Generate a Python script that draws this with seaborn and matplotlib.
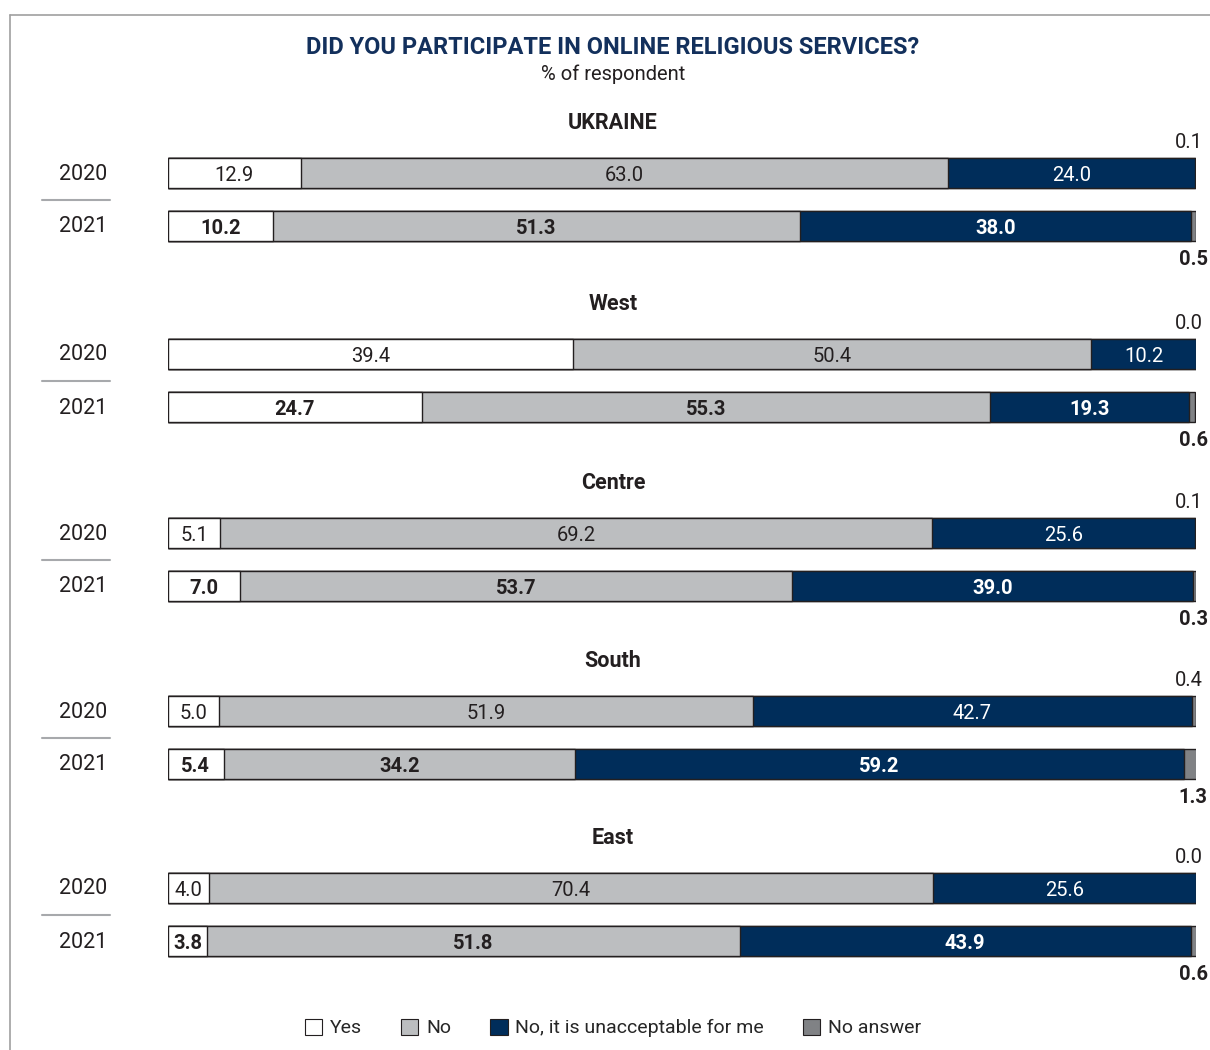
import matplotlib
matplotlib.use("Agg")
import matplotlib.pyplot as plt
from matplotlib.patches import Patch
from matplotlib.lines import Line2D
import seaborn as sns
import pandas as pd
import numpy as np

# ---------------- data ----------------
regions = ["UKRAINE", "West", "Centre", "South", "East"]
years = ["2020", "2021"]
categories = ["Yes", "No", "No, it is unacceptable for me", "No answer"]

yes_2020 = [12.9, 39.4, 5.1, 5.0, 4.0]
no_2020 = [63.0, 50.4, 69.2, 51.9, 70.4]
unacc_2020 = [24.0, 10.2, 25.6, 42.7, 25.6]
na_2020 = [0.1, 0.0, 0.1, 0.4, 0.0]

yes_2021 = [10.2, 24.7, 7.0, 5.4, 3.8]
no_2021 = [51.3, 55.3, 53.7, 34.2, 51.8]
unacc_2021 = [38.0, 19.3, 39.0, 59.2, 43.9]
na_2021 = [0.5, 0.6, 0.3, 1.3, 0.6]

# ---------------- style ----------------
sns.set_theme(style="white")
plt.rcParams["font.family"] = ["Roboto", "DejaVu Sans"]

colors = ["#ffffff", "#bcbec0", "#002d5a", "#808285"]
edge = "#231f20"
text_dark = "#231f20"
navy_title = "#13305c"

W, H = 1210, 1050
fig = plt.figure(figsize=(W / 100, H / 100), dpi=100)
fig.patch.set_facecolor("white")

def fx(px):
    return px / W

def fy(py):
    return 1 - py / H

# frame lines
fig.add_artist(Line2D([fx(10), 1], [fy(15), fy(15)], color="#a0a0a0", lw=1.2))
fig.add_artist(Line2D([fx(10), fx(10)], [fy(15), 0], color="#a0a0a0", lw=1.2))

# titles
fig.text(fx(613), fy(48), "DID YOU PARTICIPATE IN ONLINE RELIGIOUS SERVICES?",
         ha="center", va="center", fontsize=17, fontweight="bold", color=navy_title)
fig.text(fx(613), fy(74), "% of respondent", ha="center", va="center",
         fontsize=14.5, color=text_dark)

# layout (pixel centers of 2020 bars)
centers_2020 = [173, 354, 533, 711, 888]
row_gap = 53
bar_h_px = 30
ax_left, ax_right = 168, 1196

data = {
    "2020": [yes_2020, no_2020, unacc_2020, na_2020],
    "2021": [yes_2021, no_2021, unacc_2021, na_2021],
}

for r, region in enumerate(regions):
    c0 = centers_2020[r]
    top = c0 - row_gap / 2
    bottom = c0 + row_gap * 1.5
    ax = fig.add_axes([fx(ax_left), fy(bottom), fx(ax_right) - fx(ax_left),
                       (bottom - top) / H])

    vals = np.array([[data[y][k][r] for k in range(4)] for y in years])  # 2 x 4
    cum = np.cumsum(vals, axis=1)
    df = pd.DataFrame({"year": years})
    for k in range(4):
        df[categories[k]] = cum[:, k]

    # draw cumulative bars from widest to narrowest to build the stack
    for k in range(3, -1, -1):
        sns.barplot(data=df, x=categories[k], y="year", order=years, orient="h",
                    color=colors[k], saturation=1, edgecolor=edge, linewidth=1.0,
                    width=bar_h_px / row_gap, ax=ax)

    ax.set_xlim(0, 100)
    ax.set_ylim(1.5, -0.5)
    ax.axis("off")

    # segment labels
    for i, y in enumerate(years):
        weight = "normal" if y == "2020" else "bold"
        fs = 14.5 if y == "2020" else 14.5
        for k in range(3):
            v = vals[i, k]
            start = cum[i, k] - v
            ax.annotate(f"{v:.1f}", xy=(start + v / 2, i), xycoords="data",
                        xytext=(0, -1.5), textcoords="offset points",
                        ha="center", va="center",
                        fontsize=fs, fontweight=weight,
                        color="white" if k == 2 else text_dark)
        # no-answer labels
        na = vals[i, 3]
        if y == "2020":
            ax.annotate(f"{na:.1f}", xy=(100, i), xycoords="data",
                        xytext=(5, 22), textcoords="offset points",
                        ha="right", va="center", fontsize=14.5,
                        fontweight="normal", color=text_dark)
        else:
            ax.annotate(f"{na:.1f}", xy=(100, i), xycoords="data",
                        xytext=(8.5, -24), textcoords="offset points",
                        ha="right", va="center", fontsize=14.5,
                        fontweight="bold", color=text_dark)

    # region title
    fig.text(fx(613), fy(c0 - 50), region, ha="center", va="center",
             fontsize=15.5, fontweight="bold", color=text_dark)

    # year labels
    fig.text(fx(107), fy(c0 + 1), years[0], ha="right", va="center",
             fontsize=15.5, fontweight="normal", color=text_dark)
    fig.text(fx(107), fy(c0 + row_gap + 1), years[1], ha="right", va="center",
             fontsize=15.5, fontweight="normal", color=text_dark)
    # separator
    fig.add_artist(Line2D([fx(42), fx(110)], [fy(c0 + 27), fy(c0 + 27)],
                          color="#a7a9ac", lw=1.5))

# legend
handles = [Patch(facecolor=colors[k], edgecolor=edge, linewidth=0.8, label=categories[k])
           for k in range(4)]
fig.legend(handles=handles, loc="center", bbox_to_anchor=(fx(613), fy(1028)),
           ncol=4, frameon=False, fontsize=14, handlelength=0.9, handleheight=0.9,
           handletextpad=0.4, columnspacing=2.0)

fig.savefig("out.png", dpi=100, facecolor="white")
